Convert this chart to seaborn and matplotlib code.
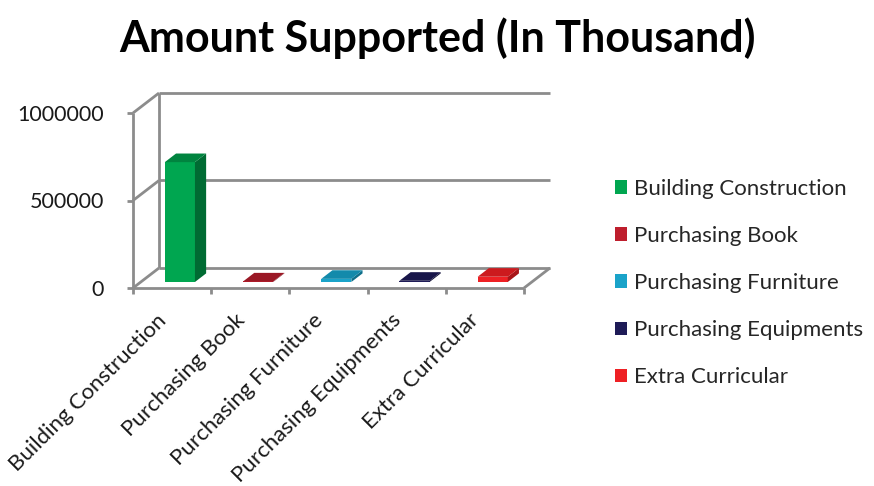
import matplotlib
matplotlib.use("Agg")
import matplotlib.pyplot as plt
from matplotlib.patches import Polygon
from matplotlib.transforms import ScaledTranslation
import seaborn as sns
import pandas as pd

# Data
categories = ["Building Construction", "Purchasing Book", "Purchasing Furniture",
              "Purchasing Equipments", "Extra Curricular"]
amounts = [685000, 3000, 18000, 7000, 30000]
yticks = [0, 500000, 1000000]
ytick_labels = ["0", "500000", "1000000"]

front_colors = ["#00A650", "#BE1E2D", "#1AA3C9", "#1E1B57", "#EE2024"]
side_colors = ["#006B33", "#7E1420", "#0E6F8A", "#110F36", "#A81518"]
top_colors = ["#00843F", "#9A1825", "#138AAB", "#18164A", "#CC1A1E"]
grid_color = "#8C8C8C"

sns.set_theme(style="white")
plt.rcParams["font.family"] = ["Lato", "DejaVu Sans"]

W, H, DPI = 874, 486, 100
fig = plt.figure(figsize=(W / DPI, H / DPI), dpi=DPI)

# Front plane of the 3D box in pixels
left_px, right_px, bot_px, top_px = 133, 524, 288, 113
ax = fig.add_axes([left_px / W, 1 - bot_px / H,
                   (right_px - left_px) / W, (bot_px - top_px) / H])

df = pd.DataFrame({"category": categories, "amount": amounts})
sns.barplot(data=df, x="category", y="amount", hue="category",
            palette=front_colors, width=0.385, saturation=1,
            edgecolor="none", linewidth=0,
            legend=True, ax=ax, zorder=3)

ymax = 1000000
ax.set_xlim(-0.5, 4.5)
ax.set_ylim(0, ymax)

# Depth offset of the back wall, converted from pixels to data units
px_x = (right_px - left_px) / 5.0
px_y = (bot_px - top_px) / ymax
dxb = 26 / px_x
dyb = 20 / px_y

line_kw = dict(color=grid_color, lw=2.0, solid_capstyle="butt", clip_on=False, zorder=1)

# Back wall gridlines and left wall diagonals
for v in yticks:
    ax.plot([-0.5 + dxb, 4.5 + dxb], [v + dyb, v + dyb], **line_kw)
    ax.plot([-0.5, -0.5 + dxb], [v, v + dyb], **line_kw)
ax.plot([-0.5 + dxb, -0.5 + dxb], [dyb, ymax + dyb], **line_kw)
# Floor edges
ax.plot([4.5, 4.5 + dxb], [0, dyb], **line_kw)
front_kw = dict(line_kw, zorder=5)
ax.plot([-0.5, 4.5], [0, 0], **front_kw)
ax.plot([-0.5, -0.5], [0, ymax], **front_kw)
# Tick marks
tick_dx = 6 / px_x
for v in yticks:
    ax.plot([-0.5 - tick_dx, -0.5], [v, v], **front_kw)
for x in [-0.5, 0.5, 1.5, 2.5, 3.5, 4.5]:
    ax.plot([x, x], [0, -6 / px_y], **front_kw)

# Shift bars into the box and add side/top faces
f0, f1 = 0.3, 0.73
ox, oy = f0 * dxb, f0 * dyb
ddx, ddy = (f1 - f0) * dxb, (f1 - f0) * dyb
bars = [p for p in ax.patches if p.get_height() > 0]
for bar, sc, tc in zip(bars, side_colors, top_colors):
    x0 = bar.get_x() + ox
    w = bar.get_width()
    h = bar.get_height()
    bar.set_x(x0)
    bar.set_y(oy)
    bar.set_clip_on(False)
    y0, y1 = oy, oy + h
    x1 = x0 + w
    ax.add_patch(Polygon([(x1, y0), (x1 + ddx, y0 + ddy), (x1 + ddx, y1 + ddy), (x1, y1)],
                         closed=True, facecolor=sc, edgecolor="none", zorder=3, clip_on=False))
    ax.add_patch(Polygon([(x0, y1), (x1, y1), (x1 + ddx, y1 + ddy), (x0 + ddx, y1 + ddy)],
                         closed=True, facecolor=tc, edgecolor="none", zorder=3, clip_on=False))

for s in ax.spines.values():
    s.set_visible(False)
ax.set_xlabel("")
ax.set_ylabel("")
ax.set_yticks(yticks)
ax.set_yticklabels(ytick_labels, fontsize=15.5, color="#1a1a1a")
ax.tick_params(axis="y", length=0, pad=21)
ax.set_xticks(range(len(categories)))
ax.set_xticklabels(categories, rotation=45, ha="right", rotation_mode="anchor",
                   fontsize=16, color="#1a1a1a")
ax.tick_params(axis="x", length=0, pad=16)
shift = ScaledTranslation(-16 / DPI, 0, fig.dpi_scale_trans)
for lbl in ax.get_xticklabels():
    lbl.set_transform(lbl.get_transform() + shift)
ax.set_facecolor("white")

handles, labels = ax.get_legend_handles_labels()
ax.legend(handles, labels, loc="center left", bbox_to_anchor=(606 / W, 1 - 283 / H),
          bbox_transform=fig.transFigure, frameon=False, fontsize=16,
          handlelength=0.55, handleheight=0.55, handletextpad=0.3, labelspacing=1.22,
          borderaxespad=0)

fig.text(0.5, 1 - 38 / H, "Amount Supported (In Thousand)", ha="center", va="center",
         fontsize=31, fontweight="bold", color="black")

fig.savefig("out.png", dpi=DPI, facecolor="white")
